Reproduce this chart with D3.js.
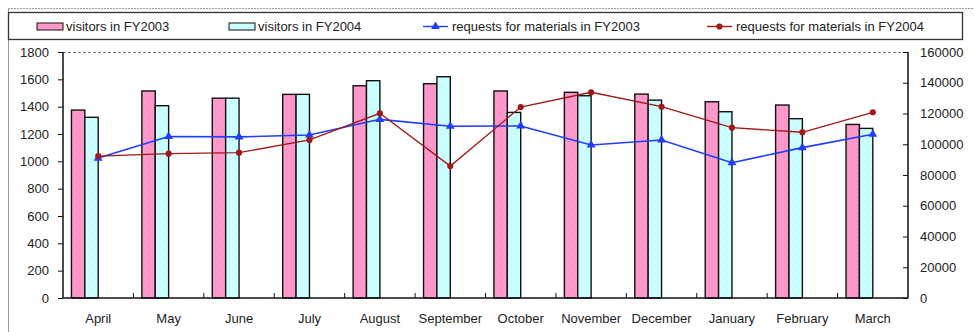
<!DOCTYPE html>
<html>
<head>
<meta charset="utf-8">
<script src="https://cdn.jsdelivr.net/npm/d3@7"></script>
<style>
  html, body { margin: 0; padding: 0; background: #fff; }
  svg { display: block; }
  text { font-family: "Liberation Sans", Arial, sans-serif; font-size: 13px; fill: #222; }
</style>
</head>
<body>
<svg id="chart" width="974" height="332"></svg>
<script>
// Monthly data, fiscal year April..March
const months = ["April", "May", "June", "July", "August", "September", "October",
                "November", "December", "January", "February", "March"];
const visitors2003 = [1375, 1515, 1462, 1490, 1553, 1568, 1515, 1505, 1492, 1436, 1412, 1270];
const visitors2004 = [1322, 1407, 1462, 1490, 1590, 1619, 1358, 1480, 1448, 1363, 1312, 1241];
const requests2003 = [91000, 105000, 104800, 106000, 116200, 111700, 111900, 99500, 102800, 88000, 97800, 106500];
const requests2004 = [92300, 93900, 94500, 102800, 120100, 85800, 124200, 133800, 124400, 110800, 107800, 120800];
const leftTicks = [0, 200, 400, 600, 800, 1000, 1200, 1400, 1600, 1800];
const rightTicks = [0, 20000, 40000, 60000, 80000, 100000, 120000, 140000, 160000];
const legendLabels = ["visitors in FY2003", "visitors in FY2004",
                      "requests for materials in FY2003", "requests for materials in FY2004"];

const svg = d3.select("#chart");
const plot = { left: 63, right: 908, top: 52, bottom: 298 };

// fill patterns for the bars (light dot texture)
const defs = svg.append("defs");
function dotPattern(id, base, dot) {
  const p = defs.append("pattern").attr("id", id).attr("patternUnits", "userSpaceOnUse")
    .attr("width", 6).attr("height", 8);
  p.append("rect").attr("width", 6).attr("height", 8).attr("fill", base);
  p.append("rect").attr("x", 1).attr("y", 1).attr("width", 1).attr("height", 1).attr("fill", dot);
  p.append("rect").attr("x", 4).attr("y", 5).attr("width", 1).attr("height", 1).attr("fill", dot);
}
dotPattern("pinkDots", "#ff99cc", "#ec84b8");
dotPattern("cyanDots", "#ccffff", "#b4ecf2");

// outer frame (grey, runs off the right and bottom edges)
svg.append("line").attr("x1", 8).attr("x2", 974).attr("y1", 8.5).attr("y2", 8.5)
  .attr("stroke", "#999").attr("stroke-width", 1).attr("stroke-dasharray", "2,1");
svg.append("line").attr("x1", 8.5).attr("x2", 8.5).attr("y1", 8).attr("y2", 332)
  .attr("stroke", "#999").attr("stroke-width", 1);

// scales
const x = d3.scaleBand().domain(months).range([plot.left, plot.right]).padding(0);
const yL = d3.scaleLinear().domain([0, 1800]).range([plot.bottom, plot.top]);
const yR = d3.scaleLinear().domain([0, 160000]).range([plot.bottom, plot.top]);
const slot = x.bandwidth() * 0.19;   // width of a single bar
const center = m => x(m) + x.bandwidth() / 2;

// top dashed border of the plot area
svg.append("line").attr("x1", plot.left).attr("x2", plot.right)
  .attr("y1", plot.top + 0.5).attr("y2", plot.top + 0.5)
  .attr("stroke", "#777").attr("stroke-dasharray", "3,2");

// bars
const barGroups = [
  { values: visitors2003, fill: "url(#pinkDots)", offset: -2 },
  { values: visitors2004, fill: "url(#cyanDots)", offset: -1 }
];
barGroups.forEach(g => {
  svg.append("g").selectAll("rect").data(months).join("rect")
    .attr("x", m => center(m) + g.offset * slot)
    .attr("y", (m, i) => yL(g.values[i]))
    .attr("width", slot)
    .attr("height", (m, i) => plot.bottom - yL(g.values[i]))
    .attr("fill", g.fill)
    .attr("stroke", "#111")
    .attr("stroke-width", 1.4);
});

// left axis
const axL = svg.append("g").attr("transform", `translate(${plot.left},0)`)
  .call(d3.axisLeft(yL).tickValues(leftTicks).tickSize(5).tickPadding(9).tickFormat(d3.format("d")));
// right axis
const axR = svg.append("g").attr("transform", `translate(${plot.right},0)`)
  .call(d3.axisRight(yR).tickValues(rightTicks).tickSize(-5).tickPadding(12).tickFormat(d3.format("d")));
// bottom axis: ticks on category boundaries pointing up
const axB = svg.append("g").attr("transform", `translate(0,${plot.bottom})`)
  .call(d3.axisBottom(x).tickSize(0).tickPadding(16));
axB.selectAll(".tick text").attr("dy", "0.71em");
svg.append("g").selectAll("line").data(months.slice(1)).join("line")
  .attr("x1", m => x(m)).attr("x2", m => x(m))
  .attr("y1", plot.bottom).attr("y2", plot.bottom - 5)
  .attr("stroke", "#111");
[axL, axR, axB].forEach(a => {
  a.select(".domain").attr("stroke", "#111").attr("stroke-width", 1.5);
  a.selectAll(".tick line").attr("stroke", "#111");
  a.selectAll(".tick text").style("font-size", "13px").attr("fill", "#222")
    .style("font-family", "'Liberation Sans', Arial, sans-serif");
});
axR.select(".domain").attr("d", `M0,${plot.bottom}V${plot.top}`);
axL.select(".domain").attr("d", `M0,${plot.bottom}V${plot.top}`);
axB.select(".domain").attr("d", `M${plot.left},0H${plot.right}`);

// request lines (secondary axis)
const lineGen = vals => d3.line().x(m => center(m)).y((m, i) => yR(vals[i]))(months);
svg.append("path").attr("d", lineGen(requests2003)).attr("fill", "none")
  .attr("stroke", "#1f3cff").attr("stroke-width", 1.6);
svg.append("path").attr("d", lineGen(requests2004)).attr("fill", "none")
  .attr("stroke", "#a01818").attr("stroke-width", 1.3);
const tri = d3.symbol().type(d3.symbolTriangle).size(34);
const dot = d3.symbol().type(d3.symbolCircle).size(30);
svg.append("g").selectAll("path").data(months).join("path")
  .attr("d", tri).attr("transform", (m, i) => `translate(${center(m)},${yR(requests2003[i])})`)
  .attr("fill", "#1f3cff");
svg.append("g").selectAll("path").data(months).join("path")
  .attr("d", dot).attr("transform", (m, i) => `translate(${center(m)},${yR(requests2004[i])})`)
  .attr("fill", "#a01818");

// legend
const lg = svg.append("g");
lg.append("rect").attr("x", 8.5).attr("y", 12.5).attr("width", 954).attr("height", 27)
  .attr("fill", "#fff").attr("stroke", "#333").attr("stroke-width", 1.3);
const legendItems = [
  { x: 37, kind: "bar", fill: "#ff99cc" },
  { x: 229, kind: "bar", fill: "#ccffff" },
  { x: 423, kind: "line", color: "#1f3cff", sym: tri },
  { x: 707, kind: "line", color: "#a01818", sym: dot }
];
legendItems.forEach((it, i) => {
  if (it.kind === "bar") {
    lg.append("rect").attr("x", it.x).attr("y", 23).attr("width", 26).attr("height", 7)
      .attr("fill", it.fill).attr("stroke", "#111").attr("stroke-width", 1);
  } else {
    lg.append("line").attr("x1", it.x).attr("x2", it.x + 25).attr("y1", 26.5).attr("y2", 26.5)
      .attr("stroke", it.color).attr("stroke-width", 1.4);
    lg.append("path").attr("d", it.sym).attr("transform", `translate(${it.x + 12.5},26.5)`)
      .attr("fill", it.color);
  }
  lg.append("text").attr("x", it.x + 29).attr("y", 31).text(legendLabels[i]);
});
</script>
</body>
</html>
